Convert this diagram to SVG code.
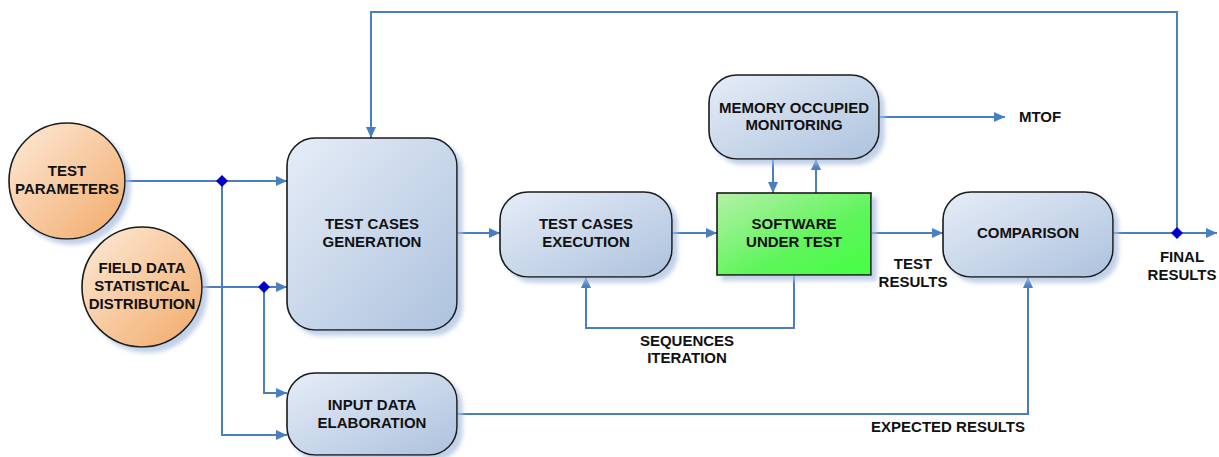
<svg xmlns="http://www.w3.org/2000/svg" width="1219" height="457" viewBox="0 0 1219 457">
<defs>
<linearGradient id="gBox" x1="0" y1="0" x2="1" y2="1">
<stop offset="0" stop-color="#e6edf7"/>
<stop offset="1" stop-color="#adc2de"/>
</linearGradient>
<linearGradient id="gCirc" x1="0" y1="0" x2="1" y2="1">
<stop offset="0" stop-color="#fdebd9"/>
<stop offset="1" stop-color="#f2a968"/>
</linearGradient>
<linearGradient id="gGreen" x1="0" y1="0" x2="1" y2="1">
<stop offset="0" stop-color="#b5f0a8"/>
<stop offset="0.6" stop-color="#5ef55a"/>
<stop offset="1" stop-color="#44ff44"/>
</linearGradient>
<filter id="sh" x="-20%" y="-20%" width="150%" height="150%">
<feDropShadow dx="5" dy="5" stdDeviation="2" flood-color="#a8bede" flood-opacity="0.7"/>
</filter>
<marker id="ah" markerUnits="userSpaceOnUse" markerWidth="12" markerHeight="10" refX="11" refY="5" orient="auto">
<path d="M0,0 L11,5 L0,10 Z" fill="#4a7ec2"/>
</marker>
</defs>
<style>
.box{fill:url(#gBox);stroke:#1a1a1a;stroke-width:1.6;filter:url(#sh)}
.circ{fill:url(#gCirc);stroke:#1a1a1a;stroke-width:1.6;filter:url(#sh)}
.green{fill:url(#gGreen);stroke:#1a1a1a;stroke-width:1.6;filter:url(#sh)}
.c{fill:none;stroke:#4a7ec2;stroke-width:2}
.a{marker-end:url(#ah)}
.dm{fill:#0000c8}
text{font-family:"Liberation Sans",Arial,sans-serif;font-weight:bold;font-size:15px;fill:#111;text-anchor:middle}
</style>

<g id="connectors">
<path class="c a" d="M125 181 H287"/>
<path class="c a" d="M222 181 V435 H287"/>
<path class="c a" d="M202 287 H287"/>
<path class="c a" d="M264 287 V393 H287"/>
<path class="c a" d="M457 233 H500"/>
<path class="c a" d="M672 233 H717"/>
<path class="c a" d="M871 233 H943"/>
<path class="c a" d="M1113 233 H1217"/>
<path class="c a" d="M1177 233 V12 H371 V138"/>
<path class="c a" d="M773 159 V193"/>
<path class="c a" d="M816 193 V159"/>
<path class="c a" d="M879 117 H1005"/>
<path class="c a" d="M794 275 V328 H586 V277"/>
<path class="c a" d="M457 414 H1028 V277"/>
<path class="dm" d="M222 175 L228 181 L222 187 L216 181 Z"/>
<path class="dm" d="M264 281 L270 287 L264 293 L258 287 Z"/>
<path class="dm" d="M1177 227 L1183 233 L1177 239 L1171 233 Z"/>
<text x="687" y="346">SEQUENCES</text>
<text x="687" y="363">ITERATION</text>
<text x="913" y="269">TEST</text>
<text x="913" y="287">RESULTS</text>
<text x="1182" y="262">FINAL</text>
<text x="1182" y="280">RESULTS</text>
<text x="1040" y="122">MTOF</text>
<text x="948" y="432">EXPECTED RESULTS</text>
</g>

<g id="test-parameters">
<circle class="circ" cx="67" cy="181" r="58"/>
<text x="67" y="176">TEST</text>
<text x="67" y="194">PARAMETERS</text>
</g>

<g id="field-data">
<circle class="circ" cx="142" cy="287" r="60"/>
<text x="142" y="273">FIELD DATA</text>
<text x="142" y="291">STATISTICAL</text>
<text x="142" y="309">DISTRIBUTION</text>
</g>

<g id="test-cases-generation">
<rect class="box" x="287" y="138" width="170" height="192" rx="28"/>
<text x="372" y="229">TEST CASES</text>
<text x="372" y="247">GENERATION</text>
</g>

<g id="input-data-elaboration">
<rect class="box" x="287" y="373" width="170" height="82" rx="28"/>
<text x="372" y="410">INPUT DATA</text>
<text x="372" y="428">ELABORATION</text>
</g>

<g id="test-cases-execution">
<rect class="box" x="500" y="192" width="172" height="85" rx="28"/>
<text x="586" y="229">TEST CASES</text>
<text x="586" y="247">EXECUTION</text>
</g>

<g id="software-under-test">
<rect class="green" x="717" y="193" width="154" height="82"/>
<text x="794" y="229">SOFTWARE</text>
<text x="794" y="247">UNDER TEST</text>
</g>

<g id="memory-monitoring">
<rect class="box" x="709" y="75" width="170" height="84" rx="28"/>
<text x="794" y="113">MEMORY OCCUPIED</text>
<text x="794" y="130">MONITORING</text>
</g>

<g id="comparison">
<rect class="box" x="943" y="192" width="170" height="85" rx="28"/>
<text x="1028" y="238">COMPARISON</text>
</g>
</svg>
